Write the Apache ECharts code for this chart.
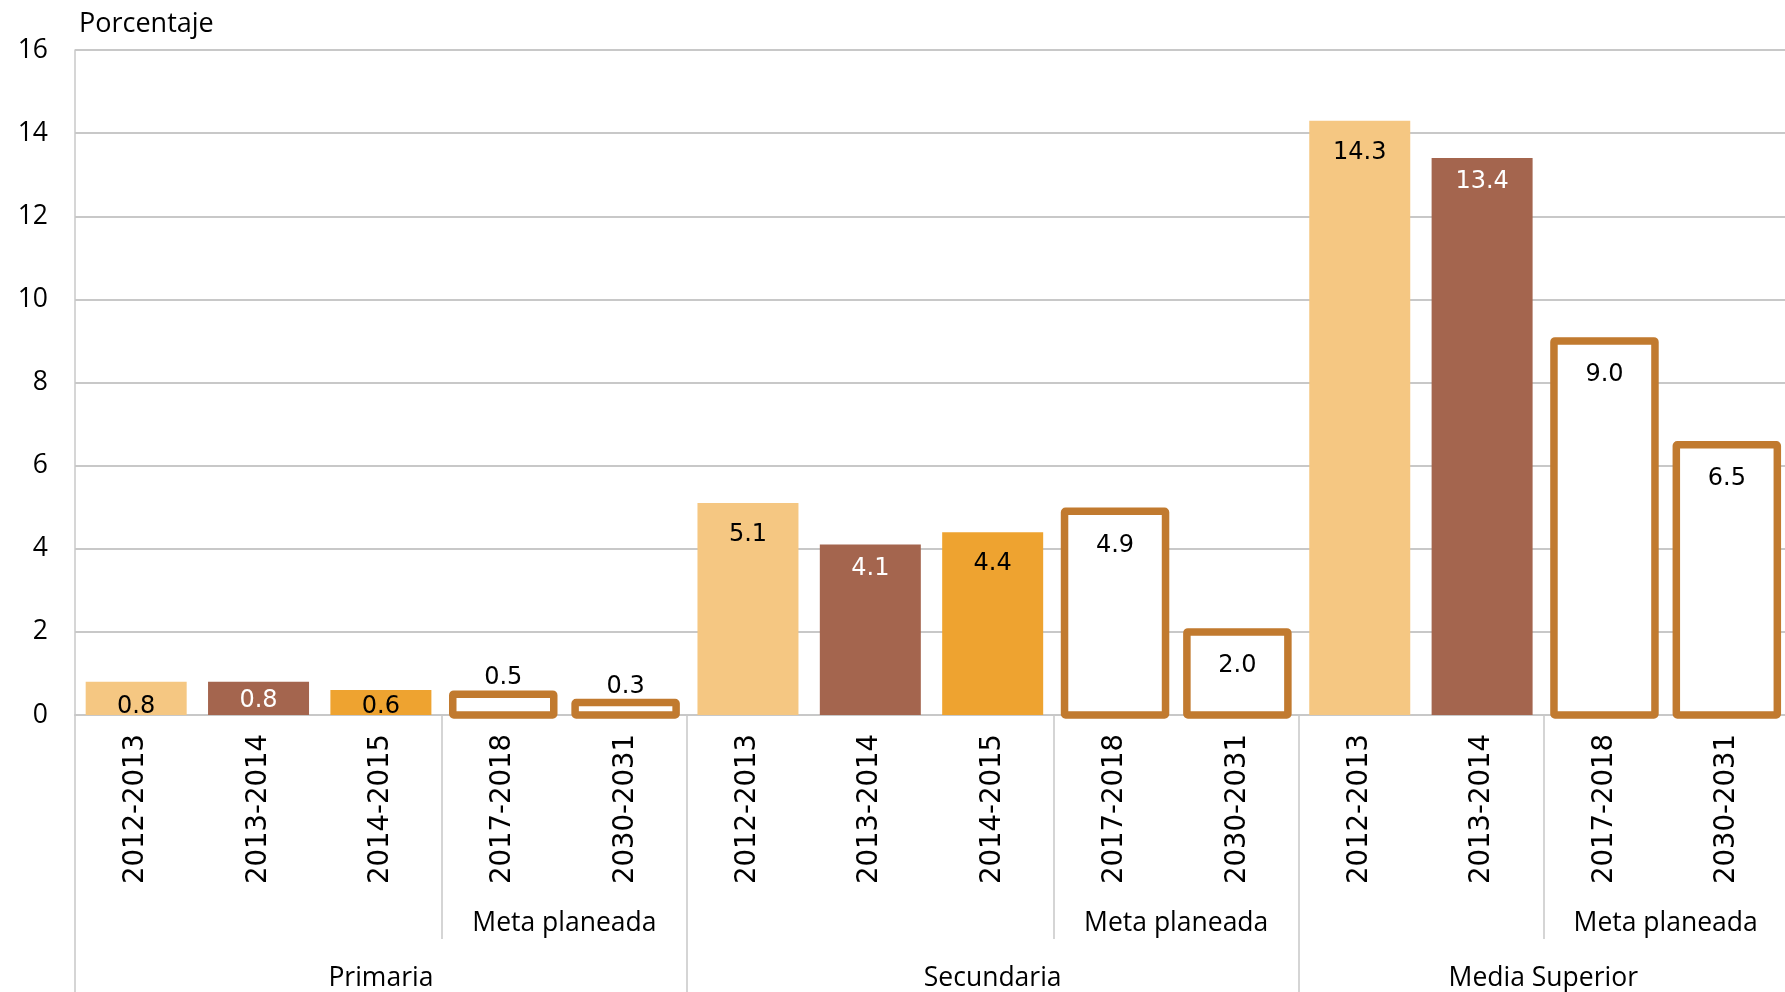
<!DOCTYPE html>
<html>
<head>
<meta charset="utf-8">
<style>
  html, body { margin: 0; padding: 0; background: #ffffff; }
  #chart { width: 1785px; height: 992px; }
</style>
<script src="https://cdn.jsdelivr.net/npm/echarts@6/dist/echarts.min.js"></script>
</head>
<body>
<div id="chart"></div>
<script>
// ---- data ----
const yearLabels = ['2012-2013', '2013-2014', '2014-2015', '2017-2018', '2030-2031',
                    '2012-2013', '2013-2014', '2014-2015', '2017-2018', '2030-2031',
                    '2012-2013', '2013-2014', '2017-2018', '2030-2031'];
const values = [0.8, 0.8, 0.6, 0.5, 0.3,
                5.1, 4.1, 4.4, 4.9, 2.0,
                14.3, 13.4, 9.0, 6.5];
// kind of each bar: observed cycle or planned goal
const kinds = ['2012-2013', '2013-2014', '2014-2015', 'meta', 'meta',
               '2012-2013', '2013-2014', '2014-2015', 'meta', 'meta',
               '2012-2013', '2013-2014', 'meta', 'meta'];
const groupNames = ['Primaria', 'Secundaria', 'Media Superior'];
const groupSizes = [5, 5, 4];
const metaCounts = [2, 2, 2];
const metaLabel = 'Meta planeada';
const yTicks = [0, 2, 4, 6, 8, 10, 12, 14, 16];
const yName = 'Porcentaje';

// ---- styles ----
const styles = {
  '2012-2013': { color: '#F5C782', text: '#000000', dist: 20, smallDist: 13 },
  '2013-2014': { color: '#A4654E', text: '#FFFFFF', dist: 12, smallDist: 7.5 },
  '2014-2015': { color: '#EEA330', text: '#000000', dist: 20, smallDist: 5 },
  'meta':      { color: '#FFFFFF', border: '#C17A2F', text: '#000000', below: 34, above: 16 }
};
const gridColor = '#C8C8C8';
const valueFont = 'DejaVu Sans';
const axisFont = '"Open Sans", "DejaVu Sans", sans-serif';
const barW = 101;
const borderW = 7.5;

// derived boundaries for the grouping axes
const groupStarts = [];
const groupCenters = [];
const metaStarts = [];
const metaCenters = [];
let acc = 0;
groupSizes.forEach((n, g) => {
  groupStarts.push(acc);
  groupCenters.push(acc + n / 2);
  const ms = acc + n - metaCounts[g];
  metaStarts.push(ms);
  metaCenters.push(ms + metaCounts[g] / 2);
  acc += n;
});
const total = acc;

const filledData = values.map((v, i) => {
  if (kinds[i] === 'meta') return '-';
  const s = styles[kinds[i]];
  return {
    value: v,
    itemStyle: { color: s.color },
    label: { show: true, color: s.text, position: 'insideTop', distance: v < 1 ? s.smallDist : s.dist }
  };
});
// goal bars: [category index, value]
const metaData = [];
values.forEach((v, i) => { if (kinds[i] === 'meta') metaData.push([i, v]); });

const chart = echarts.init(document.getElementById('chart'), null, { renderer: 'canvas' });
chart.setOption({
  animation: false,
  backgroundColor: '#ffffff',
  grid: {
    left: 75, top: 50, width: 1713, bottom: 277,
    containLabel: false, outerBoundsMode: 'none'
  },
  xAxis: [
    {
      type: 'category',
      data: yearLabels,
      gridIndex: 0,
      position: 'bottom',
      axisLine: { show: true, lineStyle: { color: gridColor, width: 2 } },
      axisTick: { show: false },
      splitLine: { show: false },
      axisLabel: {
        interval: 0, rotate: 90, margin: 19,
        fontFamily: valueFont, fontSize: 27.5, color: '#000000'
      }
    },
    {
      type: 'value',
      gridIndex: 0,
      position: 'bottom',
      min: 0, max: total,
      axisLine: { show: false },
      splitLine: { show: false },
      axisTick: {
        show: true, inside: false, length: 224,
        customValues: metaStarts,
        lineStyle: { color: gridColor, width: 1.5 }
      },
      axisLabel: {
        show: true, margin: 195,
        customValues: metaCenters,
        formatter: () => metaLabel,
        fontFamily: axisFont, fontSize: 26.5, lineHeight: 26, color: '#000000'
      }
    },
    {
      type: 'value',
      gridIndex: 0,
      position: 'bottom',
      min: 0, max: total,
      axisLine: { show: false },
      splitLine: { show: false },
      axisTick: {
        show: true, inside: false, length: 290,
        customValues: groupStarts,
        lineStyle: { color: gridColor, width: 1.5 }
      },
      axisLabel: {
        show: true, margin: 250,
        customValues: groupCenters,
        formatter: (v) => groupNames[groupCenters.indexOf(v)] || '',
        fontFamily: axisFont, fontSize: 26.5, lineHeight: 26, color: '#000000'
      }
    }
  ],
  yAxis: {
    type: 'value',
    min: yTicks[0], max: yTicks[yTicks.length - 1], interval: 2,
    name: yName,
    nameLocation: 'end',
    nameGap: 26,
    nameTextStyle: {
      fontFamily: axisFont, fontSize: 27, color: '#000000',
      align: 'left', verticalAlign: 'middle', padding: [0, 0, 0, 4]
    },
    axisLine: { show: true, lineStyle: { color: gridColor, width: 1.5 } },
    axisTick: { show: false },
    splitLine: { show: true, lineStyle: { color: gridColor, width: 2 } },
    axisLabel: {
      margin: 27, fontFamily: axisFont, fontSize: 26.5, color: '#000000'
    }
  },
  series: [
    {
      type: 'bar',
      xAxisIndex: 0,
      yAxisIndex: 0,
      barWidth: barW,
      data: filledData,
      label: {
        show: true,
        fontFamily: valueFont,
        fontSize: 24,
        formatter: (p) => p.value.toFixed(1)
      }
    },
    {
      type: 'custom',
      xAxisIndex: 0,
      yAxisIndex: 0,
      data: metaData,
      z: 3,
      renderItem: (params, api) => {
        const cat = api.value(0);
        const v = api.value(1);
        const top = api.coord([cat, v]);
        const base = api.coord([cat, 0]);
        const s = styles.meta;
        const labelY = v < 1 ? top[1] - s.above : top[1] + s.below;
        return {
          type: 'group',
          children: [
            {
              type: 'rect',
              shape: { x: top[0] - barW / 2, y: top[1], width: barW, height: base[1] - top[1], r: 1 },
              style: { fill: s.color, stroke: s.border, lineWidth: borderW, lineJoin: 'round' }
            },
            {
              type: 'text',
              x: top[0],
              y: labelY,
              style: {
                text: v.toFixed(1),
                fill: s.text,
                font: '24px "DejaVu Sans"',
                align: 'center',
                verticalAlign: 'middle'
              }
            }
          ]
        };
      }
    }
  ]
});
</script>
</body>
</html>
